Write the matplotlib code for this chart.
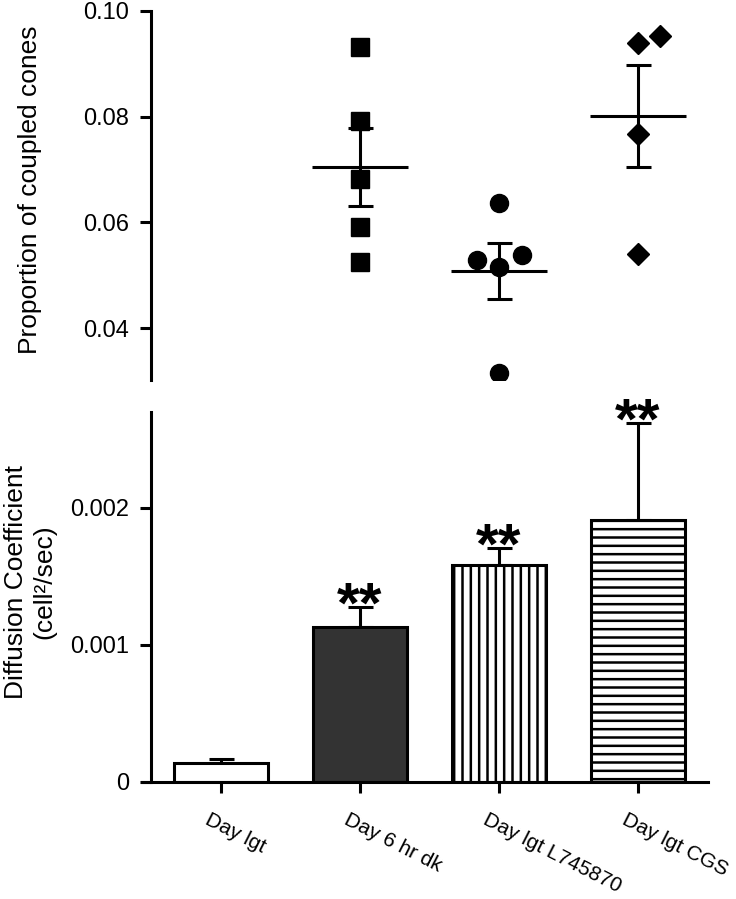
import numpy as np
import matplotlib
matplotlib.use("Agg")
import matplotlib.pyplot as plt
from matplotlib import transforms

plt.rcParams['font.family'] = ['Liberation Sans', 'DejaVu Sans']
plt.rcParams['hatch.linewidth'] = 1.8

# DATA
groups = ["Day lgt", "Day 6 hr dk", "Day lgt L745870", "Day lgt CGS"]

# top panel: individual retinas (proportion of coupled cones)
dark_pts = [0.0932, 0.0792, 0.0682, 0.0591, 0.0525]
dark_jit = [0, 0, 0, 0, 0]
l745_pts = [0.0637, 0.0529, 0.0515, 0.0538, 0.0315]
l745_jit = [0, -0.16, 0, 0.165, 0]
cgs_pts = [0.0940, 0.0953, 0.0768, 0.0541]
cgs_jit = [0, 0.16, 0, 0]
top_means = [0.0705, 0.0508, 0.0801]
top_sems = [0.0073, 0.0053, 0.0097]

# bottom panel: diffusion coefficient
diff_vals = [0.000136, 0.00113, 0.00158, 0.00191]
diff_sems = [0.00003, 0.00015, 0.00013, 0.00071]
stars = ["", "**", "**", "**"]

bar_colors = ["white", "#333333", "white", "white"]
bar_hatch = [None, None, "||", "--"]

fig = plt.figure(figsize=(7.36, 8.99), dpi=100)
ax1 = fig.add_axes([142 / 736, 1 - 380 / 899, 566 / 736, 369 / 899])
ax2 = fig.add_axes([142 / 736, 1 - 782 / 899, 566 / 736, 370 / 899])

lw = 2.2
for ax in (ax1, ax2):
    ax.set_xlim(-0.568, 3.504)
    ax.spines['top'].set_visible(False)
    ax.spines['right'].set_visible(False)
    ax.spines['left'].set_position(('data', -0.5))
    for s in ax.spines.values():
        s.set_linewidth(lw)
    ax.tick_params(width=lw, length=8, labelsize=17, pad=8)

# top: scatter dot plot with mean +/- SEM
ax1.spines['bottom'].set_visible(False)
ax1.set_xticks([])
ax1.set_ylim(0.0302, 0.10)
ax1.set_yticks([0.04, 0.06, 0.08, 0.10])
ax1.set_yticklabels(["0.04", "0.06", "0.08", "0.10"])

sets = [(1, dark_pts, dark_jit, 's', 12.5), (2, l745_pts, l745_jit, 'o', 13),
        (3, cgs_pts, cgs_jit, 'D', 11)]
for k, (xi, pts, jit, mk, ms) in enumerate(sets):
    xs = np.array(jit) + xi
    ax1.plot(xs, pts, linestyle='none', marker=mk, markersize=ms, color='black', zorder=3)
    ax1.hlines(top_means[k], xi - 0.345, xi + 0.345, color='black', lw=lw, zorder=4)
    ax1.errorbar(xi, top_means[k], yerr=top_sems[k], fmt='none', ecolor='black',
                 elinewidth=lw, capsize=9, capthick=lw, zorder=4)

fig.text(30 / 736, 1 - 190 / 899, "Proportion of coupled cones", rotation=90,
         ha='center', va='center', fontsize=19)

# bottom: bars with SEM (upper only)
x = np.arange(len(groups))
bars = ax2.bar(x, diff_vals, width=0.67, color=bar_colors, edgecolor='black',
               linewidth=lw, zorder=2)
for b, h in zip(bars, bar_hatch):
    if h:
        b.set_hatch(h)
ax2.errorbar(x, diff_vals, yerr=[np.zeros(len(x)), diff_sems], fmt='none',
             ecolor='black', elinewidth=lw, capsize=9, capthick=lw, zorder=1)
for xi, v, e, s in zip(x, diff_vals, diff_sems, stars):
    if s:
        ax2.annotate(s, (xi, v + e), xytext=(0, -11.5), textcoords='offset points',
                     ha='center', va='baseline', fontsize=42, fontweight='bold')

ax2.set_ylim(0, 0.0027)
ax2.set_yticks([0, 0.001, 0.002])
ax2.set_yticklabels(["0", "0.001", "0.002"])
ax2.set_xticks(x)
ax2.set_xticklabels(groups, rotation=-27, ha='left', va='top', rotation_mode='anchor',
                    fontsize=15)
ax2.tick_params(axis='x', pad=12)
# nudge the slanted labels a little to the left, like the original
shift = transforms.ScaledTranslation(-10 / 100, 0, fig.dpi_scale_trans)
for lab in ax2.get_xticklabels():
    lab.set_transform(lab.get_transform() + shift)

fig.text(30 / 736, 1 - 582 / 899, "Diffusion Coefficient\n(cell²/sec)", rotation=90,
         ha='center', va='center', fontsize=19, linespacing=1.2)

fig.savefig("out.png", dpi=100)
